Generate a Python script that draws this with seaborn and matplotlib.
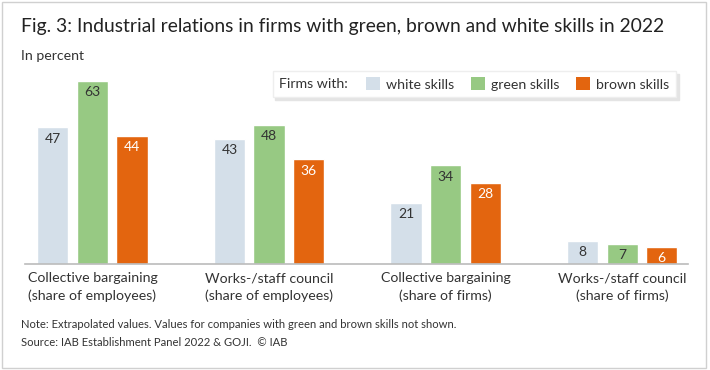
import pandas as pd
import numpy as np
import matplotlib.pyplot as plt
import seaborn as sns
from matplotlib.patches import Patch, Rectangle
from matplotlib.offsetbox import HPacker


# Data

categories = [
    "Collective bargaining\n(share of employees)",
    "Works-/staff council\n(share of employees)",
    "Collective bargaining\n(share of firms)",
    "Works-/staff council\n(share of firms)"
]

skills = ["white skills", "green skills", "brown skills"]

white_values = [47, 43, 21, 8]
green_values = [63, 48, 34, 7]
brown_values = [44, 36, 28, 6]

colors = ["#d4dfe9", "#97c983", "#e3650f"]
label_colors = ["#333333", "#333333", "#ffffff"]

df = pd.DataFrame({
    "Category": categories * 3,
    "Skill": np.repeat(skills, len(categories)),
    "Value": white_values + green_values + brown_values
})


# Plot

sns.set_theme(style="white")
plt.rcParams["font.family"] = ["Lato", "DejaVu Sans"]

fig = plt.figure(figsize=(7.1, 3.7), dpi=100)
ax = fig.add_axes([0.0352, 0.2865, 0.934, 0.511])

sns.barplot(
    data=df,
    x="Category",
    y="Value",
    hue="Skill",
    palette=colors,
    saturation=1,
    width=0.672,
    gap=0.214,
    ax=ax,
    legend=False
)

for container, c in zip(ax.containers, label_colors):
    ax.bar_label(
        container,
        padding=-12.5,
        color=c,
        fontsize=10
    )

ax.set_xlim(-0.382, 3.374)
ax.set_ylim(0, 65.06)

ax.set_xlabel("")
ax.set_ylabel("")
ax.set_yticks([])
ax.tick_params(axis="x", length=0, pad=6, labelsize=10.2, labelcolor="#333333")
for lbl in ax.get_xticklabels():
    lbl.set_linespacing(1.45)

for side in ["top", "right", "left"]:
    ax.spines[side].set_visible(False)
ax.spines["bottom"].set_color("#bbbbbb")
ax.spines["bottom"].set_linewidth(1.2)


# Legend

handles = [Patch(facecolor=c, edgecolor="none") for c in colors]

leg = ax.legend(
    handles,
    skills,
    ncol=3,
    title="Firms with:",
    loc="upper right",
    bbox_to_anchor=(0.952, 0.808),
    bbox_transform=fig.transFigure,
    borderaxespad=0,
    frameon=True,
    fancybox=False,
    framealpha=1,
    edgecolor="#eeeeee",
    shadow={"color": "#e4e4e4", "alpha": 1},
    fontsize=10.2,
    title_fontsize=10.2,
    handlelength=1.0,
    handleheight=1.0,
    handletextpad=0.45,
    columnspacing=1.15,
    borderpad=0.45
)

for t in leg.get_texts():
    t.set_color("#333333")
leg.get_title().set_color("#333333")

old_box = leg._legend_box
new_box = HPacker(
    pad=old_box.pad,
    sep=13,
    align="center",
    children=old_box.get_children()
)
new_box.set_figure(fig)
new_box.axes = ax
leg._legend_box = new_box
new_box.set_offset(leg._findoffset)


# Titles and notes

fig.text(0.03, 0.928, "Fig. 3: Industrial relations in firms with green, brown and white skills in 2022",
         fontsize=13.9, color="#222222", va="center")
fig.text(0.03, 0.85, "In percent", fontsize=10.2, color="#333333", va="center")

fig.text(0.03, 0.124, "Note: Extrapolated values. Values for companies with green and brown skills not shown.",
         fontsize=8.1, color="#333333", va="center")
fig.text(0.03, 0.073, "Source: IAB Establishment Panel 2022 & GOJI.  \u00a9 IAB",
         fontsize=8.1, color="#333333", va="center")

fig.patches.append(
    Rectangle(
        (0.003, 0.006), 0.992, 0.988,
        transform=fig.transFigure,
        fill=False,
        edgecolor="#d0d0d0",
        linewidth=1
    )
)

plt.savefig("out.png", dpi=100)
